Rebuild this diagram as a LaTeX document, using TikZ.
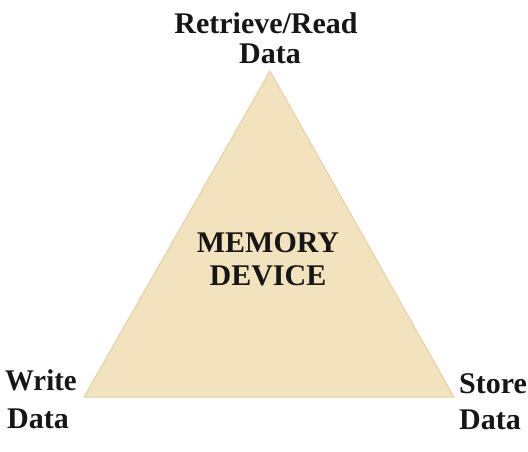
\documentclass[tikz,border=0pt]{standalone}
\usepackage{fontspec}
\setmainfont{Liberation Serif}
\definecolor{tan}{RGB}{242,226,190}
\definecolor{tanedge}{RGB}{228,209,170}
\definecolor{ink}{RGB}{22,22,22}
\begin{document}
\begin{tikzpicture}[x=1pt,y=-1pt,
  lbl/.style={font=\fontsize{30}{34}\selectfont\bfseries, text=ink, inner sep=0pt, align=center}]
\useasboundingbox (0,0) rectangle (528,451);
\coordinate (apex) at (270,71);
\coordinate (bl) at (84,397);
\coordinate (br) at (454,397);
\fill[tan, draw=tanedge, line width=1pt, line join=miter] (apex) -- (br) -- (bl) -- cycle;
\node[lbl, anchor=base] (top1) at (266,33) {Retrieve/Read};
\node[lbl, anchor=base] (top2) at (270,63) {Data};
\node[lbl, anchor=base] (mem1) at (268,252) {MEMORY};
\node[lbl, anchor=base] (mem2) at (268,285) {DEVICE};
\node[lbl, anchor=base west, xscale=0.96] (w1) at (5,390) {Write};
\node[lbl, anchor=base west] (w2) at (7,428) {Data};
\node[lbl, anchor=base west] (s1) at (459,393) {Store};
\node[lbl, anchor=base west] (s2) at (459,429) {Data};
\end{tikzpicture}
\end{document}
